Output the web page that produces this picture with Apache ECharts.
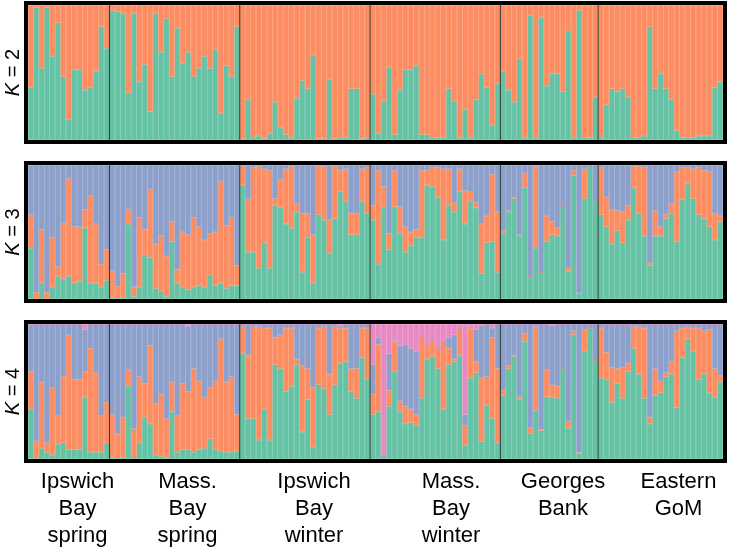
<!DOCTYPE html>
<html>
<head>
<meta charset="utf-8">
<script src="https://cdn.jsdelivr.net/npm/echarts@6/dist/echarts.min.js"></script>
<style>
html,body{margin:0;padding:0;background:#fff;}
#chart{width:729px;height:550px;}
</style>
</head>
<body>
<div id="chart"></div>
<script>
// Populations (group labels) and number of individuals per group
const groupNames = ['Ipswich\nBay\nspring', 'Mass.\nBay\nspring', 'Ipswich\nBay\nwinter', 'Mass.\nBay\nwinter', 'Georges\nBank', 'Eastern\nGoM'];
const groupSizes = [15, 24, 24, 24, 18, 23];
const kLabels = ['2', '3', '4'];

// K = 2 : membership of cluster 1 (green); cluster 2 (orange) is the remainder
const k2Green = [
  0.39,0.98,0.53,0.98,0.62,0.87,0.47,0.15,0.52,0.52,0.37,0.39,0.51,0.84,0.68,
  0.96,0.95,0.94,0.35,0.94,0.43,0.56,0.21,0.94,0.65,0.90,0.47,0.83,0.57,0.65,0.47,0.53,0.62,0.53,0.67,0.20,0.55,0.47,0.84,
  0.01,0.30,0.02,0.03,0.01,0.05,0.28,0.09,0.04,0.02,0.31,0.44,0.38,0.63,0.01,0.01,0.45,0.01,0.02,0.02,0.38,0.38,0.01,0.02,
  0.34,0.05,0.29,0.54,0.04,0.37,0.52,0.52,0.55,0.04,0.04,0.02,0.02,0.02,0.38,0.29,0.02,0.23,0.02,0.30,0.49,0.39,0.11,0.42,
  0.51,0.37,0.28,0.60,0.02,0.92,0.02,0.91,0.40,0.49,0.49,0.36,0.81,0.02,0.96,0.02,0.02,0.32,
  0.02,0.26,0.38,0.36,0.38,0.32,0.02,0.02,0.03,0.84,0.38,0.49,0.38,0.30,0.07,0.02,0.02,0.02,0.03,0.03,0.03,0.39,0.43
];

// K = 3 : green, orange; blue is the remainder
const k3Green = [
  0.38,0.00,0.12,0.00,0.09,0.17,0.15,0.17,0.12,0.13,0.53,0.12,0.12,0.09,0.14,
  0.01,0.005,0.01,0.56,0.02,0.09,0.33,0.31,0.08,0.06,0.02,0.43,0.12,0.09,0.07,0.09,0.10,0.09,0.18,0.10,0.12,0.08,0.10,0.10,
  0.85,0.35,0.35,0.23,0.42,0.23,0.70,0.68,0.56,0.53,0.65,0.20,0.46,0.12,0.63,0.59,0.34,0.60,0.80,0.73,0.48,0.48,0.73,0.64,
  0.59,0.26,0.68,0.37,0.69,0.49,0.35,0.40,0.46,0.46,0.85,0.84,0.76,0.44,0.70,0.65,0.80,0.56,0.73,0.68,0.19,0.42,0.43,0.20,
  0.49,0.65,0.75,0.47,0.83,0.17,0.38,0.20,0.43,0.48,0.47,0.69,0.21,0.92,0.04,0.75,0.98,0.73,
  0.63,0.54,0.41,0.51,0.42,0.59,0.83,0.64,0.47,0.25,0.47,0.47,0.60,0.64,0.43,0.74,0.86,0.75,0.63,0.60,0.54,0.44,0.58
];
const k3Orange = [
  0.25,0.05,0.40,0.05,0.37,0.07,0.42,0.73,0.42,0.41,0.14,0.65,0.44,0.17,0.23,
  0.20,0.09,0.18,0.11,0.07,0.52,0.19,0.51,0.33,0.41,0.30,0.15,0.10,0.41,0.41,0.52,0.44,0.35,0.31,0.40,0.76,0.47,0.51,0.15,
  0.14,0.39,0.63,0.76,0.55,0.73,0.05,0.21,0.41,0.46,0.06,0.44,0.18,0.36,0.36,0.40,0.25,0.39,0.16,0.24,0.16,0.16,0.24,0.34,
  0.11,0.70,0.16,0.12,0.27,0.20,0.19,0.10,0.06,0.50,0.11,0.14,0.22,0.53,0.27,0.07,0.17,0.25,0.07,0.04,0.37,0.20,0.50,0.45,
  0.02,0.01,0.01,0.01,0.11,0.00,0.61,0.00,0.19,0.10,0.06,0.00,0.02,0.04,0.005,0.22,0.00,0.00,
  0.35,0.22,0.26,0.15,0.23,0.11,0.16,0.35,0.51,0.02,0.19,0.07,0.03,0.07,0.52,0.24,0.12,0.22,0.35,0.36,0.41,0.20,0.04
];

// K = 4 : green, orange, pink; blue is the remainder
const k4Green = [
  0.37,0.005,0.08,0.05,0.03,0.11,0.12,0.07,0.07,0.07,0.46,0.05,0.05,0.05,0.12,
  0.01,0.005,0.01,0.54,0.005,0.12,0.31,0.26,0.03,0.02,0.01,0.35,0.05,0.07,0.07,0.05,0.07,0.08,0.15,0.07,0.06,0.05,0.05,0.06,
  0.78,0.30,0.30,0.14,0.37,0.14,0.70,0.67,0.50,0.54,0.70,0.20,0.44,0.09,0.55,0.52,0.33,0.55,0.71,0.72,0.50,0.45,0.75,0.59,
  0.33,0.35,0.02,0.39,0.65,0.35,0.26,0.27,0.25,0.45,0.74,0.76,0.67,0.37,0.70,0.72,0.77,0.10,0.60,0.64,0.13,0.40,0.30,0.12,
  0.47,0.67,0.76,0.44,0.87,0.19,0.36,0.21,0.46,0.46,0.45,0.67,0.23,0.92,0.04,0.80,0.97,0.73,
  0.60,0.59,0.42,0.56,0.45,0.65,0.82,0.63,0.45,0.26,0.47,0.49,0.61,0.63,0.38,0.75,0.89,0.80,0.59,0.63,0.49,0.46,0.57
];
const k4Orange = [
  0.28,0.13,0.49,0.07,0.50,0.21,0.49,0.85,0.52,0.52,0.19,0.77,0.59,0.27,0.30,
  0.32,0.18,0.30,0.12,0.22,0.49,0.25,0.58,0.38,0.46,0.29,0.22,0.27,0.49,0.43,0.62,0.51,0.38,0.38,0.51,0.83,0.52,0.56,0.27,
  0.20,0.47,0.68,0.84,0.60,0.83,0.20,0.25,0.47,0.43,0.04,0.49,0.23,0.44,0.42,0.46,0.30,0.43,0.26,0.25,0.17,0.22,0.22,0.38,
  0.15,0.50,0.00,0.12,0.22,0.08,0.13,0.10,0.08,0.45,0.10,0.12,0.15,0.50,0.12,0.02,0.20,0.15,0.37,0.08,0.47,0.21,0.60,0.55,
  0.04,0.02,0.01,0.02,0.06,0.04,0.62,0.01,0.20,0.09,0.09,0.00,0.05,0.03,0.01,0.16,0.00,0.00,
  0.37,0.20,0.26,0.11,0.23,0.06,0.16,0.35,0.52,0.05,0.20,0.09,0.03,0.09,0.57,0.22,0.09,0.17,0.38,0.32,0.47,0.21,0.05
];
const k4Pink = [
  0,0,0,0,0,0,0,0,0,0,0.04,0,0,0,0,
  0,0,0,0,0,0,0,0,0,0,0,0,0,0,0.015,0,0,0,0,0,0,0,0,0,
  0,0,0,0,0,0,0,0,0,0,0,0,0,0,0,0,0,0,0.01,0,0,0,0,0,
  0.30,0.10,0.98,0.22,0.12,0.16,0.15,0.18,0.20,0.10,0.16,0.12,0.18,0.13,0.10,0.08,0.03,0.67,0.02,0.04,0.01,0,0.03,0,
  0,0,0,0,0,0,0,0,0,0.01,0,0,0,0,0,0,0,0,
  0,0,0,0,0,0,0,0,0,0,0,0,0,0,0,0,0,0,0,0,0,0,0
];

const COL = {green:'#66C2A5', orange:'#FC8D62', blue:'#8DA0CB', pink:'#E78AC3'};
const FONT = 'Liberation Sans, Arial, sans-serif';
const N = k2Green.length;
const cats = Array.from({length:N}, (_, i) => 'ind' + (i + 1));
const boundaries = [];
{ let c = 0; for (let i = 0; i < groupSizes.length - 1; i++) { c += groupSizes[i]; boundaries.push(c); } }
const rem = (...arrs) => cats.map((_, i) => Math.max(0, 1 - arrs.reduce((s, a) => s + a[i], 0)));

const panels = [
  {top:5, height:135, layers:[['green', k2Green], ['orange', rem(k2Green)]]},
  {top:165, height:134, layers:[['green', k3Green], ['orange', k3Orange], ['blue', rem(k3Green, k3Orange)]]},
  {top:324, height:135, layers:[['green', k4Green], ['orange', k4Orange], ['blue', rem(k4Green, k4Orange, k4Pink)], ['pink', k4Pink]]}
];

const grids = [], xAxes = [], yAxes = [], series = [], graphics = [];
panels.forEach((p, gi) => {
  grids.push({left:28, right:6, top:p.top, height:p.height});
  xAxes.push({
    type:'category', gridIndex:gi, data:cats, boundaryGap:true,
    axisLine:{show:false}, axisTick:{show:false}, axisLabel:{show:false}, splitLine:{show:false}
  });
  yAxes.push({type:'value', gridIndex:gi, min:0, max:1, show:false, splitLine:{show:false}});
  p.layers.forEach(([name, arr]) => {
    series.push({
      type:'bar', name:name + gi, xAxisIndex:gi, yAxisIndex:gi, stack:'s' + gi,
      data:arr, barCategoryGap:'0%', barGap:'0%', silent:true,
      itemStyle:{color:COL[name], borderColor:COL[name], borderWidth:0.6}, z:1
    });
  });
  graphics.push({
    type:'rect', z:100, silent:true,
    shape:{x:26, y:p.top - 2, width:699, height:p.height + 4},
    style:{fill:null, stroke:'#000', lineWidth:4}
  });
  graphics.push({
    type:'text', z:100, x:13, y:p.top + p.height / 2, rotation:Math.PI / 2,
    style:{
      text:'{i|K} = ' + kLabels[gi], fill:'#000', fontSize:20, fontFamily:FONT,
      align:'center', verticalAlign:'middle',
      rich:{i:{fontStyle:'italic', fontSize:20, fontFamily:FONT, fill:'#000'}}
    }
  });
});

const labelCenters = [77.5, 187.5, 314, 451, 563, 678.5];
groupNames.forEach((g, i) => {
  graphics.push({
    type:'text', x:labelCenters[i], y:468,
    style:{text:g, fill:'#000', fontSize:22, lineHeight:27, fontFamily:FONT, align:'center', verticalAlign:'top'}
  });
});

const chart = echarts.init(document.getElementById('chart'), null, {renderer:'canvas'});
chart.setOption({
  animation:false,
  backgroundColor:'#fff',
  grid:grids, xAxis:xAxes, yAxis:yAxes, series:series, graphic:graphics
});

// group dividers placed between categories using the axis scale
const dividers = [];
panels.forEach((p, gi) => {
  boundaries.forEach(b => {
    const x0 = chart.convertToPixel({xAxisIndex:gi}, cats[b - 1]);
    const x1 = chart.convertToPixel({xAxisIndex:gi}, cats[b]);
    const x = (x0 + x1) / 2;
    dividers.push({
      type:'line', z:90, silent:true,
      shape:{x1:x, y1:p.top, x2:x, y2:p.top + p.height},
      style:{stroke:'#2b3a36', lineWidth:1}
    });
  });
});
chart.setOption({graphic:graphics.concat(dividers)});
</script>
</body>
</html>
